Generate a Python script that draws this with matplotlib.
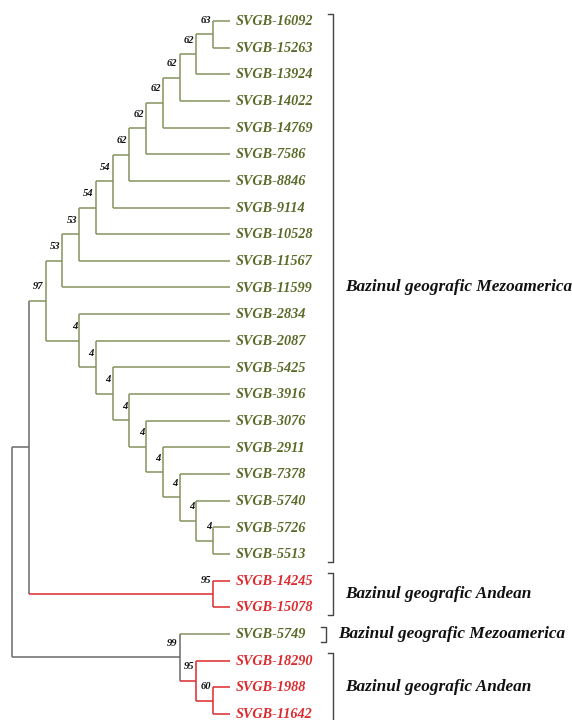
import matplotlib
matplotlib.use('Agg')
import matplotlib.pyplot as plt
from matplotlib.transforms import blended_transform_factory

# arbore (Newick): lungimi de ramura in trepte, suport bootstrap ca eticheta a nodului
newick = ("(((((((((((((SVGB-16092:1,SVGB-15263:1)63:1,SVGB-13924:2)62:1,"
          "SVGB-14022:3)62:1,SVGB-14769:4)62:1,SVGB-7586:5)62:1,SVGB-8846:6)62:1,"
          "SVGB-9114:7)54:1,SVGB-10528:8)54:1,SVGB-11567:9)53:1,SVGB-11599:10)53:1,"
          "(SVGB-2834:9,(SVGB-2087:8,(SVGB-5425:7,(SVGB-3916:6,(SVGB-3076:5,"
          "(SVGB-2911:4,(SVGB-7378:3,(SVGB-5740:2,(SVGB-5726:1,SVGB-5513:1)"
          "4:1)4:1)4:1)4:1)4:1)4:1)4:1)4:1)4:2)97:1,"
          "(SVGB-14245:1,SVGB-15078:1)95:11):1,"
          "(SVGB-5749:3,(SVGB-18290:2,(SVGB-1988:1,SVGB-11642:1)60:1)95:1)99:10);")

andean = ['SVGB-14245', 'SVGB-15078', 'SVGB-18290', 'SVGB-1988', 'SVGB-11642']

# grupuri geografice: (primul, ultimul, eticheta)
groups = [
    ('SVGB-16092', 'SVGB-5513', 'Bazinul geografic Mezoamerica'),
    ('SVGB-14245', 'SVGB-15078', 'Bazinul geografic Andean'),
    ('SVGB-5749', 'SVGB-5749', 'Bazinul geografic Mezoamerica'),
    ('SVGB-18290', 'SVGB-11642', 'Bazinul geografic Andean'),
]
bracket_x = [0.582, 0.582, 0.570, 0.582]

GREEN_LINE = '#85935f'
GREEN_TEXT = '#5a6a28'
RED = '#dc2a2e'
GRAY = '#6a6a6a'
FONT = dict(family='Liberation Serif', weight='bold', style='italic')


def parse_newick(s):
    pos = 0

    def node():
        nonlocal pos
        children = []
        if s[pos] == '(':
            pos += 1
            while True:
                children.append(node())
                if s[pos] == ',':
                    pos += 1
                else:
                    pos += 1  # ')'
                    break
        start = pos
        while s[pos] not in ':,);':
            pos += 1
        name = s[start:pos]
        length = 0.0
        if s[pos] == ':':
            pos += 1
            start = pos
            while s[pos] not in ',);':
                pos += 1
            length = float(s[start:pos])
        return {'name': name, 'length': length, 'children': children}

    return node()


tree = parse_newick(newick)
leaves = []


def layout(n, depth):
    n['x'] = depth + n['length']
    if not n['children']:
        n['y'] = len(leaves)
        leaves.append(n['name'])
        n['color'] = RED if n['name'] in andean else GREEN_LINE
    else:
        for c in n['children']:
            layout(c, n['x'])
        n['y'] = (n['children'][0]['y'] + n['children'][-1]['y']) / 2
        cols = {c['color'] for c in n['children']}
        n['color'] = cols.pop() if len(cols) == 1 else GRAY


layout(tree, 0)

fig = plt.figure(figsize=(5.72, 7.2), dpi=100)
ax = fig.add_axes([0, 0, 1, 1])
ax.set_xlim(-0.716, 33.39)
ax.set_ylim(26.23, -0.788)
ax.axis('off')


def draw(n):
    if not n['children']:
        col = RED if n['name'] in andean else GREEN_TEXT
        ax.annotate(n['name'], (n['x'], n['y']), xytext=(4.3, -0.5), textcoords='offset points',
                    ha='left', va='center', fontsize=10.3, color=col, **FONT)
        return
    ys = [c['y'] for c in n['children']]
    ax.plot([n['x'], n['x']], [min(ys), max(ys)], color=n['color'], lw=1.1,
            solid_capstyle='butt')
    for c in n['children']:
        ax.plot([n['x'], c['x']], [c['y'], c['y']], color=c['color'], lw=1.1,
                solid_capstyle='butt')
        draw(c)
    if n['name']:
        ax.annotate(n['name'], (n['x'], n['y']), xytext=(-1.5, 10), textcoords='offset points',
                    ha='right', va='center', fontsize=7.6, color='#111111', **FONT)


draw(tree)

tr = blended_transform_factory(ax.transAxes, ax.transData)
tick = 0.009
for (first, last, label), bx in zip(groups, bracket_x):
    y0 = leaves.index(first) - 0.27
    y1 = leaves.index(last) + 0.3
    ax.plot([bx - tick, bx, bx, bx - tick], [y0, y0, y1, y1], color='#444444', lw=1.0,
            transform=tr, clip_on=False)
    ax.text(bx + 0.021, (leaves.index(first) + leaves.index(last)) / 2, label,
            transform=tr, ha='left', va='center', fontsize=12.4, color='#111111', **FONT)

fig.savefig('out.png', dpi=100)
